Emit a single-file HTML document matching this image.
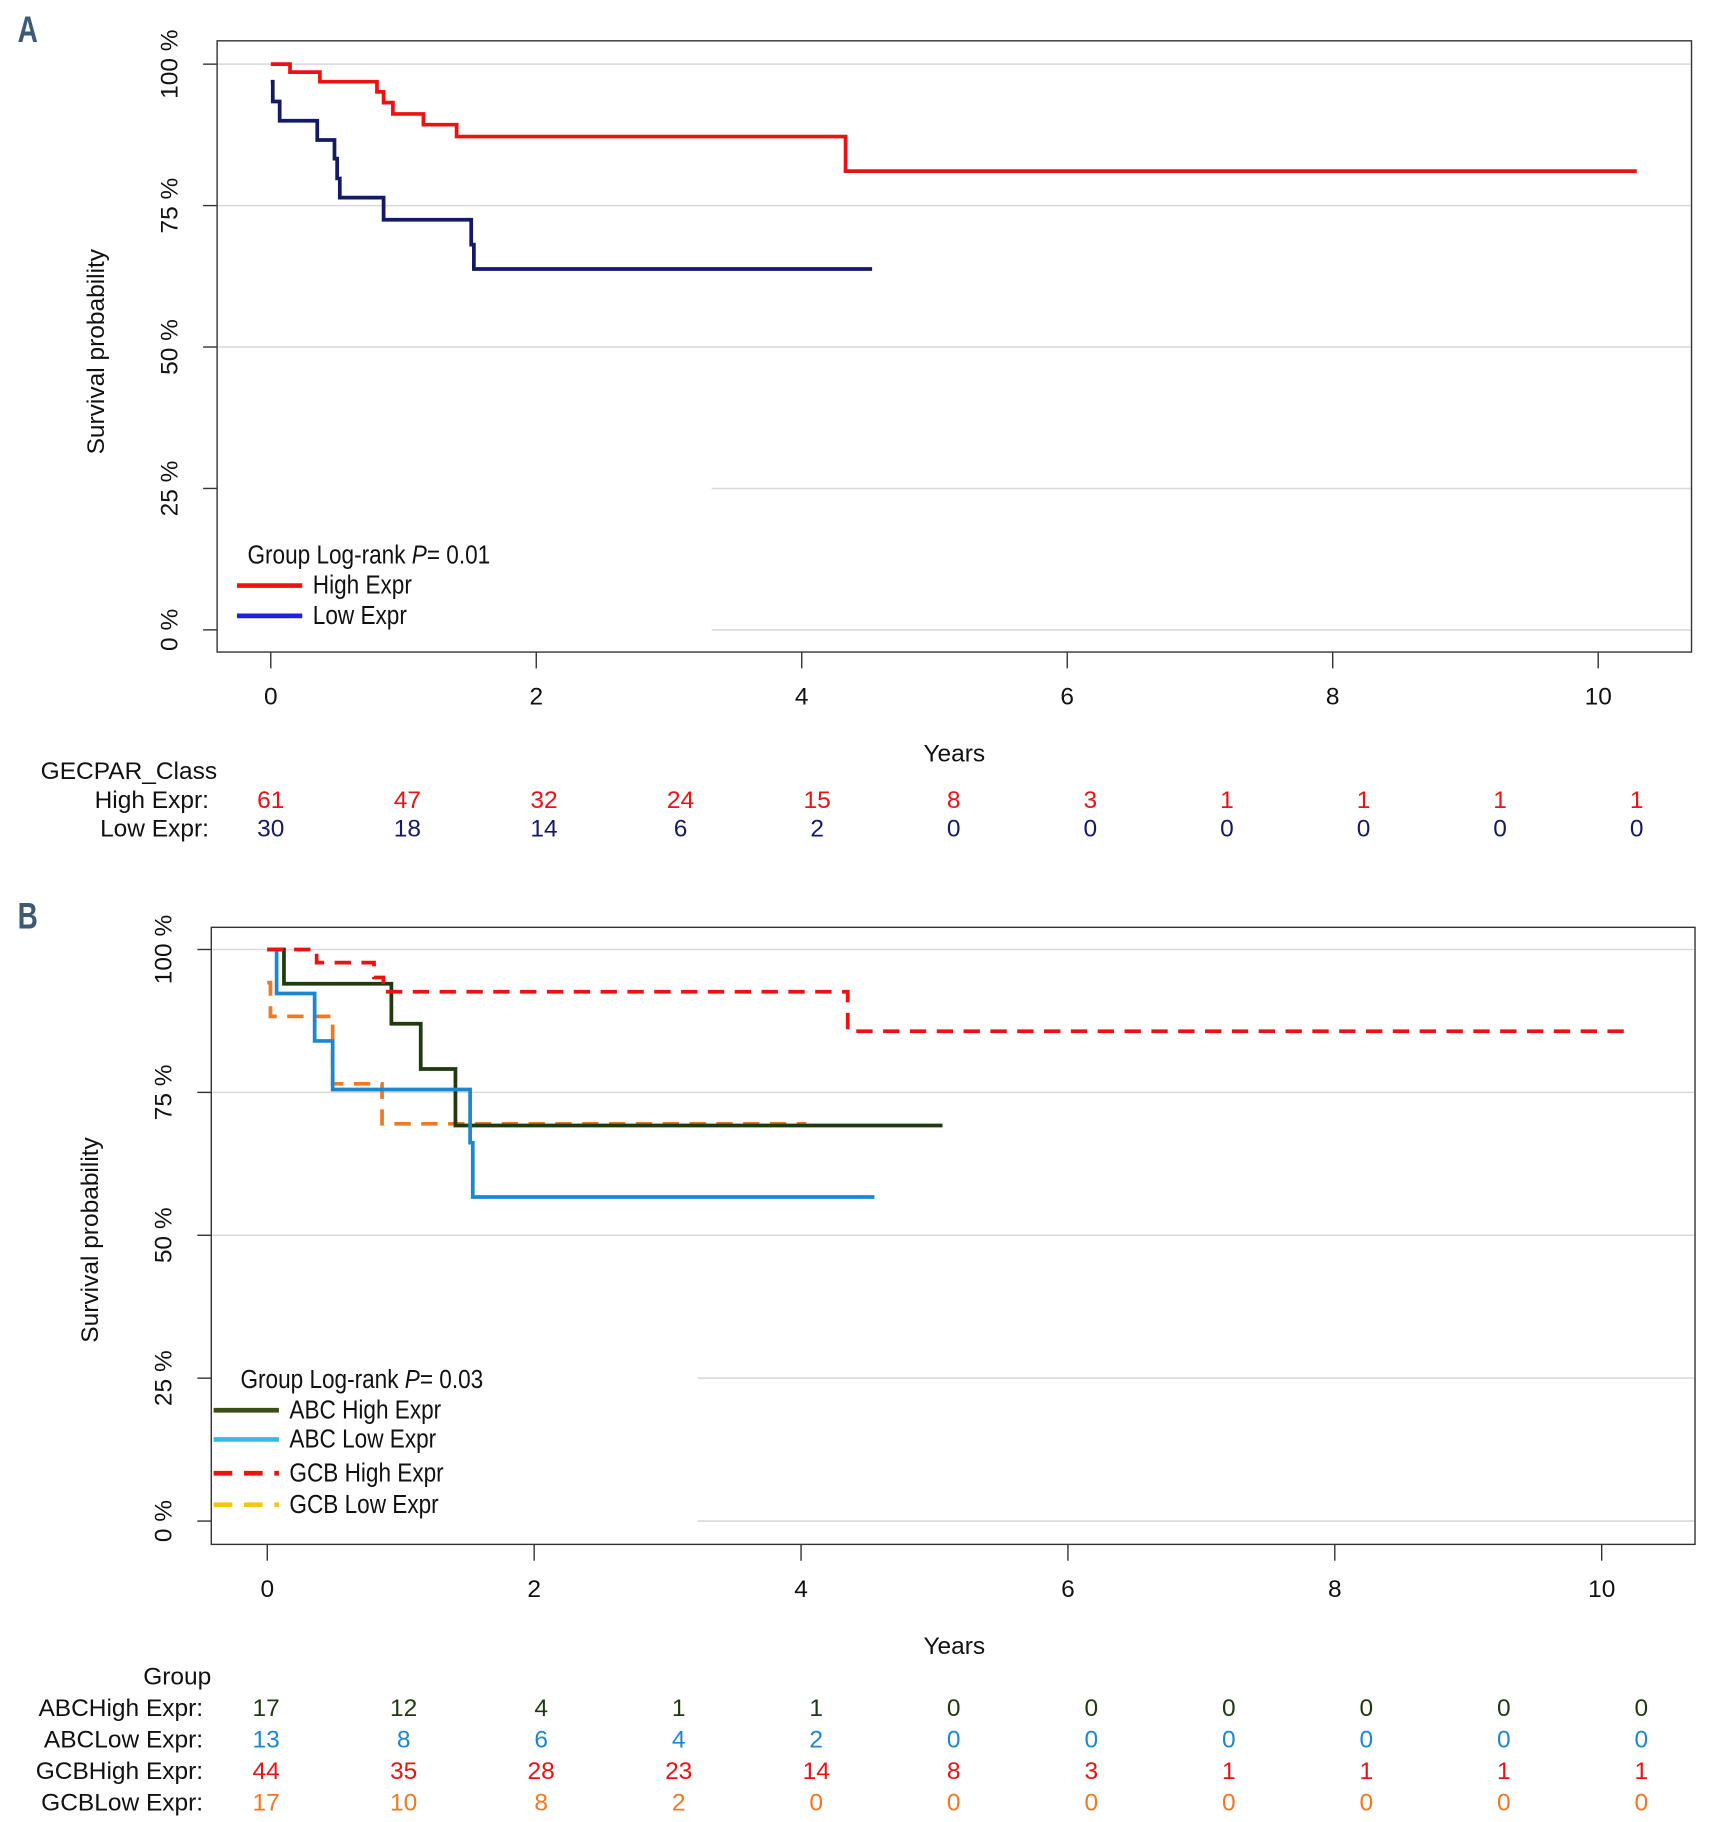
<!DOCTYPE html>
<html><head><meta charset="utf-8"><style>
html,body{margin:0;padding:0;background:#fff}
svg{display:block}
.tk{font-family:"Liberation Sans",sans-serif;font-size:21px;fill:#111}
.lg{font-family:"Liberation Sans",sans-serif;font-size:22px;fill:#111}
.rk{font-family:"Liberation Sans",sans-serif;font-size:21px}
</style></head><body>
<svg id="fig" width="1715" height="1822" viewBox="0 0 1470 1562" xmlns="http://www.w3.org/2000/svg"></svg>
<script>
// ---------- Panel A data ----------
const riskTimes = [0,1,2,3,4,5,6,7,8,9,10];
const xTicks = [0,2,4,6,8,10];
const yTicks = [0,25,50,75,100];
const aHighT = [0,0.145,0.37,0.80,0.85,0.92,1.15,1.40,4.33,10.29];
const aHighS = [100,98.6,96.9,95.1,93.2,91.2,89.3,87.2,81.1,81.1];
const aLowT = [0,0.015,0.067,0.35,0.48,0.50,0.52,0.85,1.51,1.53,4.53];
const aLowS = [96.9,93.4,90.0,86.6,83.3,79.8,76.4,72.5,68.1,63.8,63.8];
const aRiskHigh = [61,47,32,24,15,8,3,1,1,1,1];
const aRiskLow = [30,18,14,6,2,0,0,0,0,0,0];
// ---------- Panel B data ----------
const bAbcHighT = [0,0.125,0.93,1.15,1.41,5.06];
const bAbcHighS = [100,94.0,87.0,79.1,69.2,69.2];
const bAbcLowT = [0,0.07,0.355,0.49,1.52,1.54,4.55];
const bAbcLowS = [100,92.3,84.0,75.5,66.2,56.7,56.7];
const bGcbHighT = [0,0.37,0.80,0.87,4.35,10.2];
const bGcbHighS = [100,97.7,95.1,92.6,85.7,85.7];
const bGcbLowT = [0,0.024,0.49,0.86,4.04];
const bGcbLowS = [94.2,88.3,76.5,69.5,69.5];
const bRiskAbcHigh = [17,12,4,1,1,0,0,0,0,0,0];
const bRiskAbcLow = [13,8,6,4,2,0,0,0,0,0,0];
const bRiskGcbHigh = [44,35,28,23,14,8,3,1,1,1,1];
const bRiskGcbLow = [17,10,8,2,0,0,0,0,0,0,0];

const NS="http://www.w3.org/2000/svg";
const svg=document.getElementById('fig');
function mk(tag,attrs,parent,text){const e=document.createElementNS(NS,tag);for(const k in attrs)e.setAttribute(k,attrs[k]);if(text!==undefined)e.textContent=text;(parent||svg).appendChild(e);return e;}

function panel(cfg){
  const g=mk('g',{});
  
  
  const X=t=>cfg.x0+t*cfg.xs, Y=s=>cfg.y0-s*cfg.ys;
  yTicks.forEach(v=>{const gl=mk('line',{x1:(v<=25?cfg.gridCut:cfg.left+1),x2:cfg.right-1,y1:Y(v),y2:Y(v),stroke:'#d8d8d8','stroke-width':1.3},g);
    });
  const fr=mk('rect',{x:cfg.left,y:cfg.top,width:cfg.right-cfg.left,height:cfg.bottom-cfg.top,fill:'none',stroke:'#333','stroke-width':1.2},g);
  
  yTicks.forEach(v=>{mk('line',{x1:cfg.left-12,x2:cfg.left,y1:Y(v),y2:Y(v),stroke:'#333','stroke-width':1.2},g);
    const t=mk('text',{class:'tk',x:0,y:0,'text-anchor':'middle',transform:`translate(${cfg.left-34},${Y(v)}) rotate(-90)`},g,v+' %');
    });
  xTicks.forEach(v=>{mk('line',{x1:X(v),x2:X(v),y1:cfg.bottom,y2:cfg.bottom+14,stroke:'#333','stroke-width':1.2},g);
    const t=mk('text',{class:'tk',x:X(v),y:cfg.bottom+45,'text-anchor':'middle'},g,String(v));
    });
  const yt=mk('text',{class:'tk',x:0,y:0,'text-anchor':'middle',transform:`translate(${cfg.left-97},${(Y(0)+Y(100))/2+4}) rotate(-90)`,style:'font-size:21px'},g,'Survival probability');
  
  const xt=mk('text',{class:'tk',x:818,y:cfg.bottom+94,'text-anchor':'middle',style:'font-size:21px'},g,'Years');
  
  cfg.series.forEach(s=>{
    let d=`M${X(s.t[0])},${Y(s.s[0])}`;
    for(let i=1;i<s.t.length;i++){d+=` H${X(s.t[i])} V${Y(s.s[i])}`;}
    const p=mk('path',{d:d,fill:'none',stroke:s.color,'stroke-width':3.2,'stroke-dasharray':s.dash||'none'},g);
    
  });
  const lt=mk('text',{class:'lg',x:0,y:0,transform:`translate(${cfg.legX+cfg.titleDx},${cfg.legY}) scale(0.88,1)`},g);
  
  mk('tspan',{},lt,'Group Log-rank ');mk('tspan',{'font-style':'italic'},lt,'P');mk('tspan',{},lt,'= '+cfg.pval);
  let yy=cfg.legY;
  cfg.legend.forEach((l,i)=>{yy+=cfg.legStep[i];
    const ln=mk('line',{x1:cfg.legX,x2:cfg.legX+56,y1:yy,y2:yy,stroke:l.color,'stroke-width':4,'stroke-dasharray':l.dash||'none'},g);
    
    const tx=mk('text',{class:'lg',x:0,y:0,transform:`translate(${cfg.legX+65},${yy+7}) scale(0.88,1)`},g,l.label);
    });
  const rh=mk('text',{class:'rk',x:cfg.riskHeadX,y:cfg.riskY,'text-anchor':'end',fill:'#111'},g,cfg.riskHead);
  
  cfg.risk.forEach((r,i)=>{const ry=cfg.riskY+cfg.riskDy*(i+1);
    const lb=mk('text',{class:'rk',x:cfg.riskLabX,y:ry,'text-anchor':'end',fill:'#111'},g,r.label);
    
    r.vals.forEach((v,j)=>{const tx=mk('text',{class:'rk',x:cfg.rx0+riskTimes[j]*cfg.rdx,y:ry,'text-anchor':'middle',fill:r.color},g,String(v));
      });});
  const L=mk('text',{x:0,y:0,transform:`translate(15,${cfg.top+1}) scale(0.75,1)`,style:'font-family:"Liberation Sans",sans-serif;font-weight:bold;font-size:32px',fill:'#3d5a75'},g,cfg.letter);
  
}

panel({name:'panel-a',letter:'A',left:186,right:1450,top:35,bottom:559,x0:232,xs:113.8,y0:540,ys:4.85,gridCut:610,
  series:[{id:'high-expr',t:aHighT,s:aHighS,color:'#ee1111'},{id:'low-expr',t:aLowT,s:aLowS,color:'#141a66'}],
  pval:'0.01',legX:203,legY:483,titleDx:9,legStep:[19,26],
  legend:[{label:'High Expr',color:'#ee1111'},{label:'Low Expr',color:'#2020dd'}],
  riskHead:'GECPAR_Class',riskHeadX:186,riskY:668,riskDy:24.5,riskLabX:179,rx0:232,rdx:117.1,
  risk:[{label:'High Expr:',vals:aRiskHigh,color:'#ee1111'},{label:'Low Expr:',vals:aRiskLow,color:'#141a66'}]});

panel({name:'panel-b',letter:'B',left:181,right:1453,top:795,bottom:1324,x0:229,xs:114.4,y0:1304,ys:4.9,gridCut:598,
  series:[{id:'gcb-low',t:bGcbLowT,s:bGcbLowS,color:'#f07820',dash:'14 9'},
          {id:'abc-high',t:bAbcHighT,s:bAbcHighS,color:'#1e3a0e'},
          {id:'abc-low',t:bAbcLowT,s:bAbcLowS,color:'#1a88d0'},
          {id:'gcb-high',t:bGcbHighT,s:bGcbHighS,color:'#ee1111',dash:'14 9'}],
  pval:'0.03',legX:183,legY:1190,titleDx:23,legStep:[19,25,29,27],
  legend:[{label:'ABC High Expr',color:'#3a5018'},{label:'ABC Low Expr',color:'#38b8e8'},{label:'GCB High Expr',color:'#ee1111',dash:'16 10'},{label:'GCB Low Expr',color:'#f5c518',dash:'16 10'}],
  riskHead:'Group',riskHeadX:181,riskY:1444,riskDy:27,riskLabX:174,rx0:228,rdx:117.9,
  risk:[{label:'ABCHigh Expr:',vals:bRiskAbcHigh,color:'#1e3a0e'},{label:'ABCLow Expr:',vals:bRiskAbcLow,color:'#1a88d0'},
        {label:'GCBHigh Expr:',vals:bRiskGcbHigh,color:'#ee1111'},{label:'GCBLow Expr:',vals:bRiskGcbLow,color:'#f07820'}]});
</script>
</body></html>
